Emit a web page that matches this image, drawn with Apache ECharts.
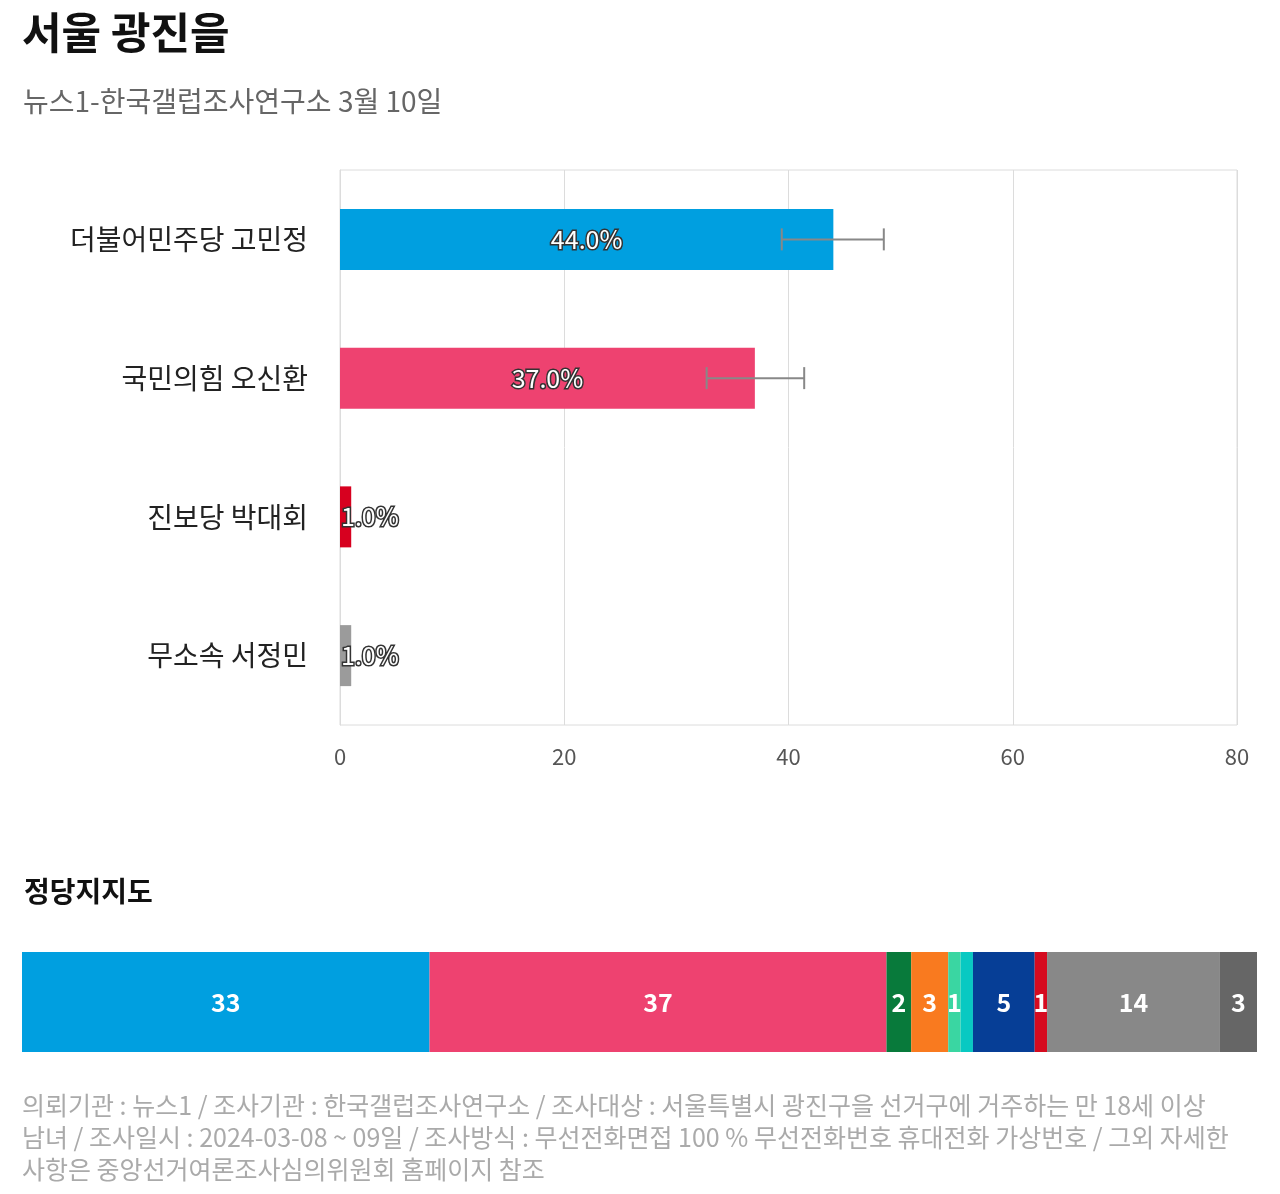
<!DOCTYPE html>
<html><head><meta charset="utf-8">
<script src="https://cdn.jsdelivr.net/npm/echarts@6/dist/echarts.min.js"></script>
<style>html,body{margin:0;padding:0;background:#fff}#c{width:1280px;height:1194px}</style>
</head><body><div id="c"></div>
<script>
const candidates = ['더불어민주당 고민정', '국민의힘 오신환', '진보당 박대회', '무소속 서정민'];
const candidateValues = [44.0, 37.0, 1.0, 1.0];
const candidateColors = ['#009FE0', '#EE4270', '#D7001F', '#9B9B9B'];
const errLow = [39.4, 32.7];
const errHigh = [48.5, 41.4];
const xTicks = [0, 20, 40, 60, 80];

const partyValues = [33, 37, 2, 3, 1, 1, 5, 1, 14, 3];
const partyColors = ['#009FE0', '#EE4270', '#087A3B', '#F97A1F', '#3AD6A2', '#08C9C2', '#063E96', '#D50B1F', '#888888', '#666666'];
const partyLabelShow = [true, true, true, true, true, false, true, true, true, true];

const footer = [
  '의뢰기관 : 뉴스1 / 조사기관 : 한국갤럽조사연구소 / 조사대상 : 서울특별시 광진구을 선거구에 거주하는 만 18세 이상',
  '남녀 / 조사일시 : 2024-03-08 ~ 09일 / 조사방식 : 무선전화면접 100 % 무선전화번호 휴대전화 가상번호 / 그외 자세한',
  '사항은 중앙선거여론조사심의위원회 홈페이지 참조'
];

const FONT = '"Noto Sans CJK KR", "Noto Sans", sans-serif';
const chart = echarts.init(document.getElementById('c'), null, {renderer: 'canvas'});

const stackSeries = partyValues.map((v, i) => ({
  type: 'bar', stack: 'p', xAxisIndex: 1, yAxisIndex: 1,
  barWidth: 100, data: [v],
  itemStyle: {color: partyColors[i]},
  label: {show: partyLabelShow[i], position: 'inside', color: '#fff', fontSize: 25, fontWeight: 'bold',
    fontFamily: FONT, formatter: '{c}'},
  silent: true
}));

chart.setOption({
  animation: false,
  textStyle: {fontFamily: FONT},
  title: [
    {text: '서울 광진을', left: 17, top: 6, textStyle: {fontSize: 43, fontWeight: 'bold', color: '#111', fontFamily: FONT}},
    {text: '뉴스1-한국갤럽조사연구소 3월 10일', left: 18, top: 82, textStyle: {fontSize: 28, fontWeight: 'normal', color: '#666', fontFamily: FONT}},
    {text: '정당지지도', left: 19, top: 872, textStyle: {fontSize: 28, fontWeight: 'bold', color: '#111', fontFamily: FONT}}
  ],
  grid: [
    {left: 340, right: 43, top: 170, bottom: 469, show: true, borderColor: '#dcdcdc', borderWidth: 1},
    {left: 22, right: 23, top: 952, height: 100}
  ],
  xAxis: [
    {type: 'value', gridIndex: 0, min: xTicks[0], max: xTicks[xTicks.length - 1], interval: 20,
      axisLine: {show: false}, axisTick: {show: false},
      splitLine: {lineStyle: {color: '#dcdcdc'}},
      axisLabel: {color: '#555', fontSize: 22, margin: 21, fontFamily: FONT}},
    {type: 'value', gridIndex: 1, min: 0, max: 100, show: false}
  ],
  yAxis: [
    {type: 'category', gridIndex: 0, data: candidates, inverse: true,
      axisLine: {show: true, lineStyle: {color: '#dcdcdc'}}, axisTick: {show: false},
      axisLabel: {color: '#222', fontSize: 28, margin: 32, fontFamily: FONT}},
    {type: 'category', gridIndex: 1, data: ['정당'], show: false}
  ],
  series: [
    {type: 'bar', xAxisIndex: 0, yAxisIndex: 0, barWidth: 61,
      data: candidateValues.map((v, i) => ({
        value: v, itemStyle: {color: candidateColors[i]},
        label: v < 5 ? {position: 'insideLeft', offset: [-4, 0]} : {position: 'inside'}
      })),
      label: {show: true, color: '#fff', fontSize: 25, fontFamily: FONT,
        textBorderColor: '#333', textBorderWidth: 3,
        formatter: p => p.value.toFixed(1) + '%'}
    },
    {type: 'custom', xAxisIndex: 0, yAxisIndex: 0, z: 5,
      data: errLow.map((lo, i) => [i, lo, errHigh[i]]),
      renderItem: (params, api) => {
        const i = api.value(0);
        const a = api.coord([api.value(1), i]);
        const b = api.coord([api.value(2), i]);
        const h = 11;
        const st = {stroke: '#888', lineWidth: 2};
        return {type: 'group', children: [
          {type: 'line', shape: {x1: a[0], y1: a[1], x2: b[0], y2: b[1]}, style: st},
          {type: 'line', shape: {x1: a[0], y1: a[1] - h, x2: a[0], y2: a[1] + h}, style: st},
          {type: 'line', shape: {x1: b[0], y1: b[1] - h, x2: b[0], y2: b[1] + h}, style: st}
        ]};
      }
    },
    ...stackSeries
  ],
  graphic: footer.map((t, i) => ({
    type: 'text', left: 22, top: 1093 + i * 32,
    style: {text: t, fill: '#aaa', fontSize: 25, fontFamily: FONT}
  }))
});
</script></body></html>
